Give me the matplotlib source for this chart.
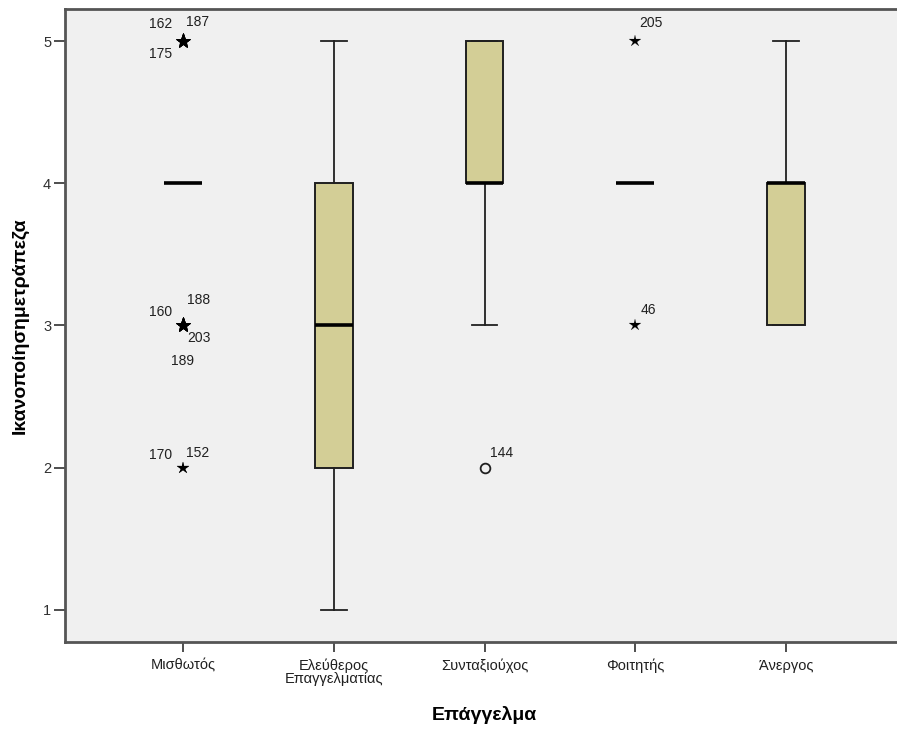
import matplotlib.pyplot as plt
from matplotlib import font_manager

# box summaries per occupation
groups = ['Μισθωτός', 'Ελεύθερος\nΕπαγγελματίας', 'Συνταξιούχος', 'Φοιτητής', 'Άνεργος']
q1 = [4, 2, 4, 4, 3]
med = [4, 3, 4, 4, 4]
q3 = [4, 4, 5, 4, 4]
whislo = [4, 1, 3, 4, 3]
whishi = [4, 5, 5, 4, 5]

# flagged cases: group index, value, case number, kind
case_group = [0, 0, 0, 0, 0, 0, 0, 0, 0, 2, 3, 3]
case_value = [5, 5, 5, 3, 3, 3, 3, 2, 2, 2, 5, 3]
case_id = ['162', '187', '175', '160', '188', '203', '189', '170', '152', '144', '205', '46']
case_kind = ['x', 'x', 'x', 'x', 'x', 'x', 'x', 'x', 'x', 'o', 'x', 'x']

# label offsets in pixels from the marker
label_offset = [(-34, 10), (3, 12), (-34, -20), (-34, 6), (4, 18), (4, -20), (-12, -43),
                (-34, 6), (3, 8), (5, 8), (4, 11), (5, 8)]

families = ['Liberation Sans Narrow', 'Liberation Sans', 'DejaVu Sans']
installed = {f.name for f in font_manager.fontManager.ttflist}
plt.rcParams['font.family'] = [f for f in families if f in installed]

fig = plt.figure(figsize=(8.97, 7.29), dpi=100)
ax = fig.add_axes([65 / 897, 1 - 642 / 729, 839 / 897, 633 / 729])
ax.set_facecolor('#f0f0f0')

stats = []
for i, g in enumerate(groups):
    stats.append(dict(label=g, q1=q1[i], med=med[i], q3=q3[i],
                      whislo=whislo[i], whishi=whishi[i], fliers=[]))

pos = list(range(1, len(groups) + 1))
ax.bxp(stats, positions=pos, widths=0.25, patch_artist=True, showfliers=False,
       boxprops=dict(facecolor='#d3ce96', edgecolor='#202020', linewidth=1.4),
       medianprops=dict(color='black', linewidth=2.6),
       whiskerprops=dict(color='#202020', linewidth=1.3),
       capprops=dict(color='#202020', linewidth=1.3),
       capwidths=0.17)

# markers; stacked stars are drawn heavier
for i in range(len(case_id)):
    x = pos[case_group[i]]
    y = case_value[i]
    n = sum(1 for j in range(len(case_id))
            if case_group[j] == case_group[i] and case_value[j] == y)
    if case_kind[i] == 'o':
        ax.plot(x, y, marker='o', ms=7, mfc='none', mec='#202020', mew=1.3, zorder=4)
    else:
        ax.plot(x, y, marker='*', ms=11 if n > 2 else 9, color='black',
                mec='black', mew=0.5 if n > 2 else 0.1, zorder=4)
    dx, dy = label_offset[i]
    ax.annotate(case_id[i], (x, y), xytext=(dx, dy), textcoords='offset pixels',
                fontsize=10, color='#202020', family=['Liberation Sans', 'DejaVu Sans'],
                va='bottom', ha='left')

ax.set_xlim(0.215, 5.785)
ax.set_ylim(0.775, 5.225)
ax.set_yticks([1, 2, 3, 4, 5])
ax.set_yticklabels(['1', '2', '3', '4', '5'], family=['Liberation Sans', 'DejaVu Sans'])
ax.set_xticks(pos)
ax.set_xticklabels(groups, fontsize=10.5, linespacing=0.9)
ax.tick_params(axis='y', labelsize=10.5, length=8, width=1.2, color='#303030',
               labelcolor='#303030', pad=2)
ax.tick_params(axis='x', length=7, width=1.2, color='#303030', labelcolor='#202020', pad=5)

for s in ['left', 'bottom', 'top', 'right']:
    ax.spines[s].set_color('#555555')
    ax.spines[s].set_linewidth(2)

ax.set_xlabel('Επάγγελμα', fontsize=14, fontweight='bold', labelpad=14)
ax.set_ylabel('Ικανοποίησημετράπεζα', fontsize=14, fontweight='bold', labelpad=10)

fig.savefig('out.png', dpi=100, facecolor='white')
